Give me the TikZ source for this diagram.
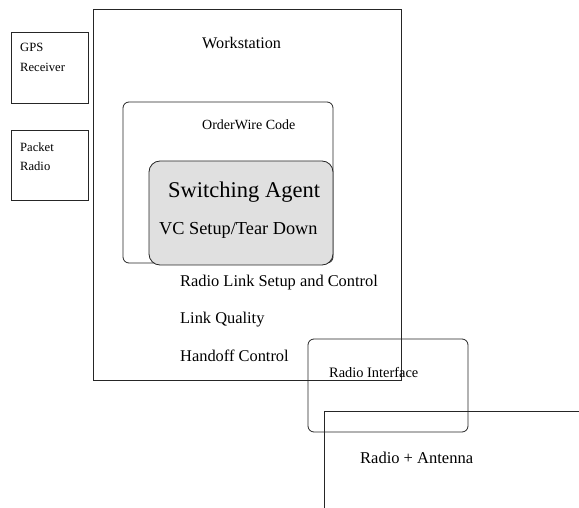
\documentclass[tikz,border=0pt]{standalone}
\usepackage{fontspec}
\setmainfont{Liberation Serif}
\begin{document}
\begin{tikzpicture}[x=1pt,y=-1pt,
  box/.style={draw=black!85,line width=0.8pt},
  rbox/.style={box,rounded corners=6pt},
  lbl/.style={anchor=west,inner sep=0pt,text=black},
  fs/.style={font=\fontsize{#1}{#1}\selectfont}]
\useasboundingbox (0,0) rectangle (579,508);
% boxes
\draw[box] (93,9) rectangle (401,380);
\coordinate (ws) at (93,9);
\draw[box] (11,32) rectangle (88,103);
\draw[box] (11,130) rectangle (88,200);
\draw[rbox] (123,102) rectangle (333,263);
\draw[box,rounded corners=11pt,fill=black!12] (149,161) rectangle (333,265);
\draw[rbox] (308,339) rectangle (468,432);
\coordinate (ra) at (324,411);
\draw[box] (579,411) -- (ra) -- (324,508);
% labels
\node[lbl,fs=16.2] (wst) at (202,43) {Workstation};
\node[lbl,fs=12.6] (gps) at (20,47) {GPS};
\node[lbl,fs=12.6] (rcv) at (20,67) {Receiver};
\node[lbl,fs=12.6] (pk) at (20,147) {Packet};
\node[lbl,fs=12.6] (prd) at (20,166) {Radio};
\node[lbl,fs=14] (owc) at (202,125) {OrderWire Code};
\node[lbl,fs=22.5] (swa) at (168,192) {Switching Agent};
\node[lbl,fs=18.3] (vc) at (159,230) {VC Setup/Tear Down};
\node[lbl,fs=16.4] (rls) at (180,283) {Radio Link Setup and Control};
\node[lbl,fs=16.4] (lq) at (180,320) {Link Quality};
\node[lbl,fs=16.4] (hc) at (180,356) {Handoff Control};
\node[lbl,fs=14.4] (ri) at (329,372) {Radio Interface};
\node[lbl,fs=16.5] (rant) at (360,458) {Radio + Antenna};
\end{tikzpicture}
\end{document}
